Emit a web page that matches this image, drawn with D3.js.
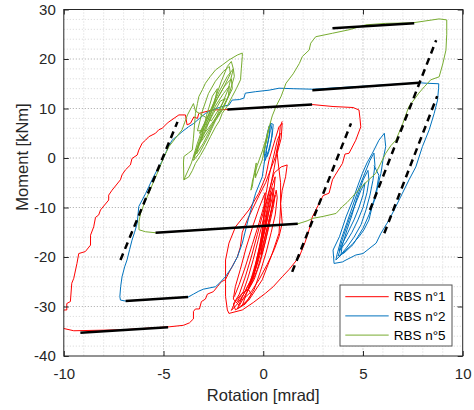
<!DOCTYPE html>
<html>
<head>
<meta charset="utf-8">
<script src="https://cdn.jsdelivr.net/npm/d3@7"></script>
<style>
body { margin: 0; background: #fff; }
svg { font-family: "Liberation Sans", Arial, sans-serif; }
</style>
</head>
<body>
<svg id="chart"></svg>
<script>
// ---- data (rotation [mrad], moment [kNm]) ----
const xTicks = [-10, -5, 0, 5, 10];
const yTicks = [-40, -30, -20, -10, 0, 10, 20, 30];
const seriesNames = ['RBS n°1', 'RBS n°2', 'RBS n°5'];

// RBS n°1 - large cycle
const rbs1Envelope = [
  [0.95,7.4],[0.85,6.3],[0.8,3.6],[0.7,2.0],[0.62,0.3],[0.35,-2.5],[0.12,-5.0],[-0.2,-7.5],[-0.5,-10.0],
  [-0.8,-12.5],[-1.05,-15.0],[-1.15,-18.0],[-1.3,-20.0],[-1.5,-21.5],[-1.7,-23.0],[-1.9,-24.6],[-2.1,-25.0],
  [-2.3,-26.0],[-2.5,-27.0],[-2.8,-27.5],[-2.9,-28.5],[-3.1,-29.0],[-3.2,-30.5],[-3.4,-30.5],[-3.5,-31.0],
  [-3.5,-32.5],[-3.7,-33.3],[-4.0,-33.8],[-4.7,-34.1],[-7.0,-34.7],[-9.5,-34.9],[-10.05,-34.4],[-10.1,-32.0],
  [-10.0,-30.7],[-9.85,-30.7],[-9.85,-29.4],[-9.67,-29.0],[-9.6,-25.3],[-9.5,-24.3],[-9.34,-21.3],[-9.25,-19.3],
  [-8.92,-18.9],[-8.66,-17.6],[-8.66,-15.6],[-8.5,-13.9],[-8.41,-12.0],[-8.25,-11.5],[-8.16,-10.5],[-7.75,-8.5],
  [-7.75,-7.5],[-7.58,-6.5],[-7.16,-4.4],[-7.08,-3.4],[-6.91,-2.4],[-6.66,-1.4],[-6.58,-0.1],[-6.32,0.6],
  [-6.24,1.6],[-6.07,3.0],[-5.9,3.6],[-5.74,4.3],[-5.4,5.0],[-5.24,5.7],[-5.07,6.0],[-4.82,7.0],[-4.73,7.3],
  [-4.23,8.7],[-3.9,8.7],[-3.82,6.7],[-3.65,7.0],[-3.48,8.3],[-3.3,8.0],[-3.23,9.0],[-2.56,9.7],[-1.72,9.8],
  [0.5,10.3],[2.45,10.8],[3.5,10.4],[4.5,10.2],[4.8,9.7],[4.85,8.0],[4.89,6.3],[4.64,3.6],[4.3,0.95],
  [4.1,0.8],[3.97,-1.1],[3.6,-3.5],[3.47,-4.4],[3.3,-7.1],[3.0,-7.6],[2.8,-9.2],[2.46,-11.9],[2.3,-14.5],
  [2.1,-17.0],[1.8,-20.0],[1.3,-22.5],[0.95,-24.0],[0.5,-26.0],[0.12,-27.3],[-0.5,-29.2],[-1.05,-30.7],[-1.72,-31.4]
];
// RBS n°1 - small cycles around zero
const rbs1Cycles = [
  [-1.72,-31.4],[-1.8,-30.7],[-1.89,-28.0],[-1.89,-25.3],[-1.89,-20.6],[-1.72,-17.2],[-1.39,-13.9],[-0.72,-10.5],
  [-0.22,-7.1],[0.12,-3.8],[0.29,-0.4],[0.54,3.0],[0.79,6.3],[0.95,7.0],[0.9,4.0],[0.7,0.95],[0.75,-1.0],
  [0.87,-5.0],[0.87,-9.8],[0.79,-15.2],[0.45,-19.3],[-0.05,-24.6],[-0.72,-28.7],[-1.39,-30.7],[-1.5,-29.5],
  [-1.2,-27.5],[-0.9,-24.0],[-0.6,-20.0],[-0.3,-15.5],[0.0,-11.0],[0.3,-6.5],[0.55,-3.0],[0.9,-1.8],[1.2,-1.4],
  [1.12,-3.8],[0.95,-6.5],[0.87,-9.2],[0.95,-13.2],[0.79,-15.9],[0.55,-18.5],[0.2,-21.5],[-0.2,-24.5],
  [-0.6,-27.0],[-1.0,-28.5],[-1.3,-29.0],[-1.0,-27.0],[-0.75,-24.0],[-0.5,-20.5],[-0.25,-16.5],[0.0,-12.5],
  [0.25,-8.5],[0.45,-5.5],[0.6,-3.8],[0.55,-6.0],[0.45,-9.5],[0.3,-13.0],[0.1,-17.0],[-0.15,-21.0],
  [-0.45,-24.5],[-0.8,-27.0],[-0.65,-25.0],[-0.4,-21.5],[-0.15,-17.5],[0.05,-14.0],[0.25,-10.0],[0.4,-7.0],
  [0.35,-9.0],[0.2,-12.5],[0.0,-16.0],[-0.25,-20.0],[-0.5,-23.5],[-0.7,-26.0],[-0.5,-24.0],[-0.3,-20.0],
  [-0.1,-16.0],[0.1,-12.0],[0.3,-8.5],[0.5,-6.0],[0.45,-8.0],[0.25,-11.5],[0.05,-15.0],[-0.15,-18.5],
  [-0.4,-22.0],[-0.55,-24.5],[-0.35,-22.0],[-0.15,-18.0],[0.05,-14.5],[0.2,-11.0],[0.15,-13.0],[-0.05,-16.5],
  [-0.25,-20.0],[-0.45,-23.0],[-0.9,-27.0],[-1.3,-29.5],[-1.6,-30.8],[-1.4,-29.0],[-1.1,-27.5],[-0.75,-26.5],
  [-0.6,-27.5],[-0.9,-29.5],[-1.3,-30.5],[-1.1,-28.5],[-0.8,-26.0],[-0.5,-24.0],[-0.2,-19.0],[0.1,-10.0],
  [0.35,-6.0],[0.55,-2.0],[0.75,2.5],[0.85,5.0],[0.7,3.5],[0.5,0.0],[0.3,-3.5],[0.15,-7.0],[0.05,-10.0],
  [-0.1,-19.5],[0.15,-15.0],[0.4,-10.5],[0.65,-6.5],[0.7,-8.0],[0.6,-11.5],[0.4,-15.0],[0.15,-19.0],
  [-0.15,-23.0],[-0.45,-26.5],[-0.75,-28.5],[-1.05,-29.8],[-0.85,-27.5],[-0.55,-24.5],[-0.3,-21.5],
  [-0.05,-18.0],[0.2,-14.0],[0.45,-10.0],[0.6,-7.5],[0.5,-10.0],[0.25,-14.5],[0.0,-18.5],[-0.3,-22.5],
  [-0.6,-25.5],[-1.2,-29.8],[-1.5,-28.5],[-1.4,-26.0],[-1.15,-22.5],[-0.85,-18.0],[-0.5,-13.5],[-0.2,-10.0],
  [0.1,-7.0],[0.05,-9.5],[-0.2,-13.0],[-0.55,-17.5],[-0.9,-22.0],[-1.2,-25.5],[-1.45,-28.0]
];

// RBS n°2 - small cycles around zero
const rbs2Center = [
  [0.37,7.0],[0.45,5.5],[0.4,3.5],[0.3,1.5],[0.2,0.3],[0.15,1.5],[0.25,3.5],[0.35,5.5],[0.3,6.5],[0.2,5.0],
  [0.12,3.0],[0.05,1.0],[0.1,-0.5],[0.3,2.0],[0.45,4.5],[0.5,6.8],[0.37,7.0]
];
// RBS n°2 - large cycle
const rbs2Envelope = [
  [0.37,7.0],[0.29,4.3],[0.12,0.95],[-0.05,-3.8],[-0.38,-7.1],[-0.72,-11.9],[-1.05,-17.2],[-1.3,-20.0],
  [-1.56,-22.0],[-1.9,-24.0],[-2.2,-25.3],[-2.39,-26.0],[-3.0,-26.5],[-3.23,-26.9],[-3.5,-27.5],[-3.77,-28.1],
  [-6.9,-28.9],[-7.16,-28.7],[-7.19,-28.0],[-7.15,-26.0],[-7.08,-24.0],[-6.95,-22.0],[-6.83,-20.6],[-6.7,-18.5],
  [-6.58,-16.6],[-6.45,-15.0],[-6.32,-13.2],[-6.24,-9.8],[-6.07,-8.5],[-5.9,-7.2],[-5.74,-5.8],[-5.5,-3.8],
  [-5.24,-1.8],[-5.05,-0.5],[-4.9,0.95],[-4.75,2.3],[-4.57,3.6],[-4.3,4.5],[-4.07,5.3],[-3.75,6.3],[-3.48,7.0],
  [-3.2,8.0],[-2.9,9.0],[-2.5,9.8],[-2.06,10.4],[-1.72,10.7],[-1.56,11.7],[-1.2,11.8],[-0.97,12.1],[-0.9,13.1],
  [-0.38,13.4],[0.29,13.7],[0.79,14.1],[1.5,14.0],[2.46,13.9],[5.0,14.5],[7.82,15.2],[8.2,15.1],[8.8,15.0],
  [8.79,14.1],[8.74,11.7],[8.57,9.0],[8.32,5.7],[7.98,2.3],[7.65,-1.8],[7.31,-4.4],[6.98,-7.1],[6.65,-9.8],
  [6.31,-12.5],[5.9,-15.2],[5.66,-17.2],[5.0,-19.3],[4.64,-19.6],[4.15,-20.6],[3.97,-21.0],[3.55,-21.3]
];
// RBS n°2 - cycles on the positive side
const rbs2Cycles = [
  [3.55,-21.3],[3.5,-18.6],[3.82,-15.9],[4.15,-11.9],[4.49,-8.5],[4.75,-5.5],[4.97,-3.1],[5.2,-1.0],[5.47,0.95],
  [5.8,3.6],[6.07,5.0],[6.14,2.3],[6.0,-0.5],[5.9,-3.1],[5.75,-5.5],[5.64,-7.8],[5.45,-10.0],[5.3,-12.5],
  [5.05,-14.5],[4.8,-15.9],[4.45,-17.5],[4.14,-18.6],[3.85,-19.8],[3.64,-20.6],[3.7,-19.5],[3.9,-16.5],
  [4.2,-13.0],[4.5,-9.5],[4.8,-6.0],[5.1,-3.0],[5.35,-0.5],[5.55,1.0],[5.6,-1.5],[5.5,-4.5],[5.35,-7.5],
  [5.15,-10.5],[4.9,-13.5],[4.55,-16.0],[4.2,-18.0],[3.9,-19.5],[3.95,-17.8],[4.2,-14.5],[4.45,-11.5],
  [4.7,-8.0],[5.0,-4.5],[5.25,-2.5],[5.3,-4.5],[5.2,-7.0],[5.0,-10.0],[4.75,-12.5],[4.45,-15.0],[4.15,-17.0],
  [3.8,-18.8],[4.0,-16.0],[4.3,-12.5],[4.6,-9.5],[4.9,-6.5],[5.1,-5.0],[5.0,-7.5],[4.8,-10.0],[4.55,-12.5],
  [4.25,-15.0],[3.95,-17.5],[3.75,-19.8],[4.05,-19.2],[4.5,-17.5],[5.0,-14.2],[5.3,-11.5],[5.55,-8.5],
  [5.7,-6.0],[5.8,-3.5],[5.55,-1.5]
];

// RBS n°5 - cycles on the negative side
const rbs5Cycles = [
  [-3.98,-4.4],[-4.0,-1.0],[-3.98,0.3],[-3.75,1.0],[-3.56,1.6],[-3.5,4.0],[-3.45,6.5],[-3.4,9.0],[-3.3,11.0],
  [-3.23,12.4],[-3.05,13.8],[-2.9,15.1],[-2.65,16.5],[-2.39,17.8],[-2.05,18.8],[-1.72,19.8],[-1.3,20.8],
  [-1.05,21.2],[-1.05,20.5],[-1.1,18.0],[-1.14,15.8],[-1.35,14.0],[-1.56,12.4],[-1.8,10.5],[-2.06,9.0],
  [-2.2,7.5],[-2.39,6.3],[-2.65,4.3],[-2.9,2.3],[-3.15,0.5],[-3.4,-1.1],[-3.55,-2.5],[-3.73,-3.8],[-3.98,-4.4],
  [-3.6,-1.0],[-3.3,3.0],[-3.0,6.5],[-2.6,10.0],[-2.2,13.5],[-1.8,16.5],[-1.5,18.0],[-1.45,16.5],[-1.7,13.0],
  [-2.0,10.0],[-2.4,7.5],[-2.8,4.0],[-3.2,1.0],[-3.5,-0.5],[-3.3,2.0],[-3.0,5.0],[-2.7,8.5],[-2.3,12.0],
  [-1.95,14.5],[-1.6,16.0],[-1.55,14.0],[-1.85,11.5],[-2.2,9.0],[-2.6,6.5],[-3.0,4.0],[-3.25,2.5],[-3.0,4.5],
  [-2.7,7.5],[-2.4,10.5],[-2.0,13.0],[-1.7,14.5],[-1.75,12.5],[-2.05,10.0],[-2.4,8.0],[-2.75,6.0],[-3.0,4.8],
  [-3.5,0.0],[-3.2,3.5],[-2.9,7.0],[-2.5,11.0],[-2.1,15.5],[-1.8,18.5],[-1.6,19.5],[-1.5,18.0],[-1.75,14.0],
  [-2.1,10.5],[-2.5,7.0],[-3.0,3.0],[-3.35,0.8],[-3.1,4.0],[-2.85,8.5],[-2.55,12.5],[-2.3,14.0],[-2.45,11.0],
  [-2.7,8.0],[-3.1,5.5],[-3.3,5.5],[-3.05,9.5],[-2.75,13.0],[-2.4,15.5],[-2.0,17.5],[-1.7,18.5],[-1.65,17.0],
  [-1.95,14.5],[-2.3,12.0],[-2.65,9.5],[-2.95,7.0],[-3.2,5.0],[-2.9,6.0],[-2.5,9.0],[-2.15,11.5],[-1.9,12.0],
  [-2.2,10.0],[-2.6,7.5],[-3.4,9.5],[-3.5,11.0]
];
// RBS n°5 - large cycle
const rbs5Envelope = [
  [-3.5,11.0],[-3.8,8.7],[-4.07,5.7],[-4.4,4.0],[-4.73,2.3],[-5.0,0.0],[-5.24,-2.4],[-5.5,-4.8],[-5.74,-7.1],
  [-5.95,-9.0],[-6.15,-11.2],[-6.23,-12.8],[-6.23,-14.5],[-5.9,-14.9],[-5.4,-15.1],[-2.0,-14.3],[1.73,-13.3],
  [2.2,-12.7],[2.48,-12.2],[3.0,-11.8],[3.65,-11.2],[3.97,-9.8],[4.2,-9.0],[4.47,-7.8],[5.0,-5.5],[5.64,-3.1],
  [5.9,-1.0],[6.14,0.95],[6.4,2.5],[6.65,3.6],[7.0,7.0],[7.3,10.4],[7.6,12.0],[7.8,13.1],[8.1,14.5],[8.4,15.8],
  [8.82,16.4],[9.0,19.0],[9.16,21.8],[9.2,25.0],[9.2,27.9],[8.82,28.1],[7.48,27.3],[6.14,27.2],[5.14,26.9],
  [4.3,25.9],[3.47,25.2],[2.63,24.5],[2.38,23.2],[2.3,21.8],[1.96,20.5],[1.81,19.1],[1.5,17.0],[1.14,15.1],
  [0.9,12.5],[0.64,10.4],[0.45,8.5],[0.3,6.3],[0.15,4.0],[-0.03,1.6],[-0.3,-1.5],[-0.53,-4.4],[-0.62,-6.5],
  [-0.55,-5.8],[-0.45,-3.0],[-0.35,-1.0],[-0.4,-4.0],[-0.2,-2.0],[-0.05,-0.4],[0.1,2.5],[0.29,6.3],[0.2,4.0],[0.0,1.0]
];

// post-yield slopes (solid) and elastic slopes (dashed)
const hardeningLines = [
  [[3.47,26.2],[7.57,27.2]],
  [[2.46,13.7],[7.82,15.2]],
  [[-1.8,9.8],[2.45,10.8]],
  [[-5.4,-15.1],[1.73,-13.3]],
  [[-6.9,-28.9],[-3.77,-28.1]],
  [[-9.17,-35.3],[-4.77,-34.2]]
];
const elasticLines = [
  [[-7.16,-20.6],[-4.3,7.3]],
  [[1.45,-23.0],[4.4,7.0]],
  [[5.35,-10.5],[8.67,23.8]],
  [[6.07,-15.2],[8.72,12.5]]
];

// ---- drawing ----
const colors = ['#ff0000', '#0072bd', '#77ac30'];

class HysteresisPlot {
  constructor(_config) {
    this.config = {
      parentElement: _config.parentElement,
      containerWidth: 474,
      containerHeight: 410,
      margin: {top: 9.5, right: 11.3, bottom: 54, left: 63.8}
    };
    this.initVis();
  }

  initVis() {
    let vis = this;
    const m = vis.config.margin;
    vis.width = vis.config.containerWidth - m.left - m.right;
    vis.height = vis.config.containerHeight - m.top - m.bottom;

    vis.xScale = d3.scaleLinear().domain([-10, 10]).range([0, vis.width]);
    vis.yScale = d3.scaleLinear().domain([-40, 30]).range([vis.height, 0]);

    vis.svg = d3.select(vis.config.parentElement)
      .attr('width', vis.config.containerWidth)
      .attr('height', vis.config.containerHeight);

    vis.chart = vis.svg.append('g')
      .attr('transform', `translate(${m.left},${m.top})`);

    vis.chart.append('clipPath').attr('id', 'plot-clip')
      .append('rect').attr('width', vis.width).attr('height', vis.height);

    vis.renderVis();
  }

  renderVis() {
    let vis = this;
    const x = vis.xScale, y = vis.yScale;

    // grid
    const grid = vis.chart.append('g').attr('class', 'grid');
    const xMinor = d3.range(-9, 10, 1).filter(d => d % 5 !== 0);
    const yMinor = d3.range(-38, 30, 2).filter(d => d % 10 !== 0);
    grid.selectAll('.gx-minor').data(xMinor).join('line')
      .attr('x1', d => x(d)).attr('x2', d => x(d)).attr('y1', 0).attr('y2', vis.height)
      .attr('stroke', '#d6d6d6').attr('stroke-dasharray', '1,2');
    grid.selectAll('.gy-minor').data(yMinor).join('line')
      .attr('y1', d => y(d)).attr('y2', d => y(d)).attr('x1', 0).attr('x2', vis.width)
      .attr('stroke', '#d6d6d6').attr('stroke-dasharray', '1,2');
    grid.selectAll('.gx-major').data(xTicks.slice(1, -1)).join('line')
      .attr('x1', d => x(d)).attr('x2', d => x(d)).attr('y1', 0).attr('y2', vis.height)
      .attr('stroke', '#a8a8a8').attr('stroke-dasharray', '1,2');
    grid.selectAll('.gy-major').data(yTicks.slice(1, -1)).join('line')
      .attr('y1', d => y(d)).attr('y2', d => y(d)).attr('x1', 0).attr('x2', vis.width)
      .attr('stroke', '#a8a8a8').attr('stroke-dasharray', '1,2');

    // series
    const line = d3.line().x(d => x(d[0])).y(d => y(d[1]));
    const series = [
      [rbs1Envelope, rbs1Cycles],
      [rbs2Center, rbs2Envelope, rbs2Cycles],
      [rbs5Cycles, rbs5Envelope]
    ];
    const plot = vis.chart.append('g').attr('clip-path', 'url(#plot-clip)');
    series.forEach((paths, i) => {
      plot.append('g').selectAll('path').data(paths).join('path')
        .attr('d', line)
        .attr('fill', 'none')
        .attr('stroke', colors[i])
        .attr('stroke-width', 1)
        .attr('stroke-linejoin', 'round');
    });

    plot.append('g').selectAll('path').data(hardeningLines).join('path')
      .attr('d', line).attr('fill', 'none')
      .attr('stroke', '#000').attr('stroke-width', 2.5);
    plot.append('g').selectAll('path').data(elasticLines).join('path')
      .attr('d', line).attr('fill', 'none')
      .attr('stroke', '#000').attr('stroke-width', 2.5)
      .attr('stroke-dasharray', '7,5');

    // axes
    const axisColor = '#262626';
    const fmt = d => String(d);
    const xAxisG = vis.chart.append('g')
      .attr('transform', `translate(0,${vis.height})`)
      .call(d3.axisBottom(x).tickValues(xTicks).tickSize(-5).tickPadding(12).tickFormat(fmt));
    const yAxisG = vis.chart.append('g')
      .call(d3.axisLeft(y).tickValues(yTicks).tickSize(-5).tickPadding(8).tickFormat(fmt));
    const topG = vis.chart.append('g')
      .call(d3.axisTop(x).tickValues(xTicks).tickSize(-5).tickFormat(''));
    const rightG = vis.chart.append('g')
      .attr('transform', `translate(${vis.width},0)`)
      .call(d3.axisRight(y).tickValues(yTicks).tickSize(-5).tickFormat(''));
    [xAxisG, yAxisG, topG, rightG].forEach(g => {
      g.select('.domain').remove();
      g.selectAll('line').attr('stroke', axisColor);
      g.selectAll('text').style('font-size', '15px').attr('fill', axisColor)
        .style('font-family', '"Liberation Sans", Arial, sans-serif');
    });

    vis.chart.append('rect')
      .attr('width', vis.width).attr('height', vis.height)
      .attr('fill', 'none').attr('stroke', axisColor).attr('stroke-width', 1);

    // titles
    vis.chart.append('text')
      .attr('x', vis.width / 2).attr('y', 401 - vis.config.margin.top)
      .attr('text-anchor', 'middle')
      .style('font-size', '16.5px').attr('fill', axisColor)
      .text('Rotation [mrad]');
    vis.svg.append('text')
      .attr('transform', 'translate(27.5,157) rotate(-90)')
      .attr('text-anchor', 'middle')
      .style('font-size', '16.5px').attr('fill', axisColor)
      .text('Moment [kNm]');

    // legend
    const legend = vis.svg.append('g').attr('transform', 'translate(340,285)');
    legend.append('rect')
      .attr('width', 112).attr('height', 61)
      .attr('fill', '#fff').attr('stroke', '#555').attr('stroke-width', 1);
    const rows = legend.selectAll('.row').data(seriesNames).join('g')
      .attr('transform', (d, i) => `translate(0,${11.7 + i * 19.2})`);
    rows.append('line')
      .attr('x1', 5.3).attr('x2', 48.7)
      .attr('stroke', (d, i) => colors[i]).attr('stroke-width', 1);
    rows.append('text')
      .attr('x', 53.7).attr('dy', '0.35em')
      .style('font-size', '13.5px').attr('fill', '#000')
      .text(d => d);
  }
}

new HysteresisPlot({parentElement: '#chart'});
</script>
</body>
</html>
